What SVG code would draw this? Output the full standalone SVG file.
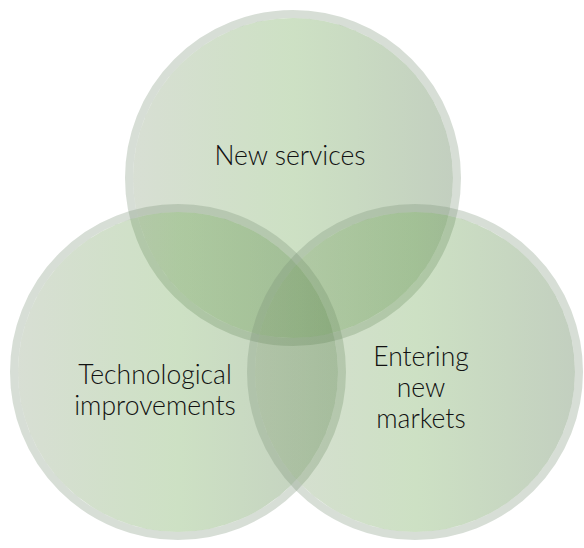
<svg xmlns="http://www.w3.org/2000/svg" width="584" height="548" viewBox="0 0 584 548">
<defs>
<linearGradient id="g" x1="0" y1="0" x2="1" y2="0">
<stop offset="0" stop-color="#78906a" stop-opacity="0.29"/>
<stop offset="0.5" stop-color="#3f8a1c" stop-opacity="0.26"/>
<stop offset="1" stop-color="#3c6432" stop-opacity="0.31"/>
</linearGradient>
</defs>
<style>
.fill{fill:url(#g);}
.ring{fill:none;stroke:#7c9176;stroke-opacity:0.3;stroke-width:8;}
text{font-family:Lato,"Noto Sans",sans-serif;font-weight:300;font-size:26.5px;fill:#111;text-anchor:middle;}
</style>
<rect width="584" height="548" fill="#fff"/>
<g id="node-new-services">
<circle class="fill" cx="293" cy="178" r="160"/>
<circle class="ring" cx="293" cy="178" r="164"/>
<text x="290" y="165">New services</text>
</g>
<g id="node-technological">
<circle class="fill" cx="178" cy="372" r="160"/>
<circle class="ring" cx="178" cy="372" r="164"/>
<text x="155" y="384">Technological</text>
<text x="155" y="415">improvements</text>
</g>
<g id="node-entering">
<circle class="fill" cx="415" cy="372" r="160"/>
<circle class="ring" cx="415" cy="372" r="164"/>
<text x="421" y="366">Entering</text>
<text x="421" y="397">new</text>
<text x="421" y="428">markets</text>
</g>
<g id="connectors"/>
</svg>
